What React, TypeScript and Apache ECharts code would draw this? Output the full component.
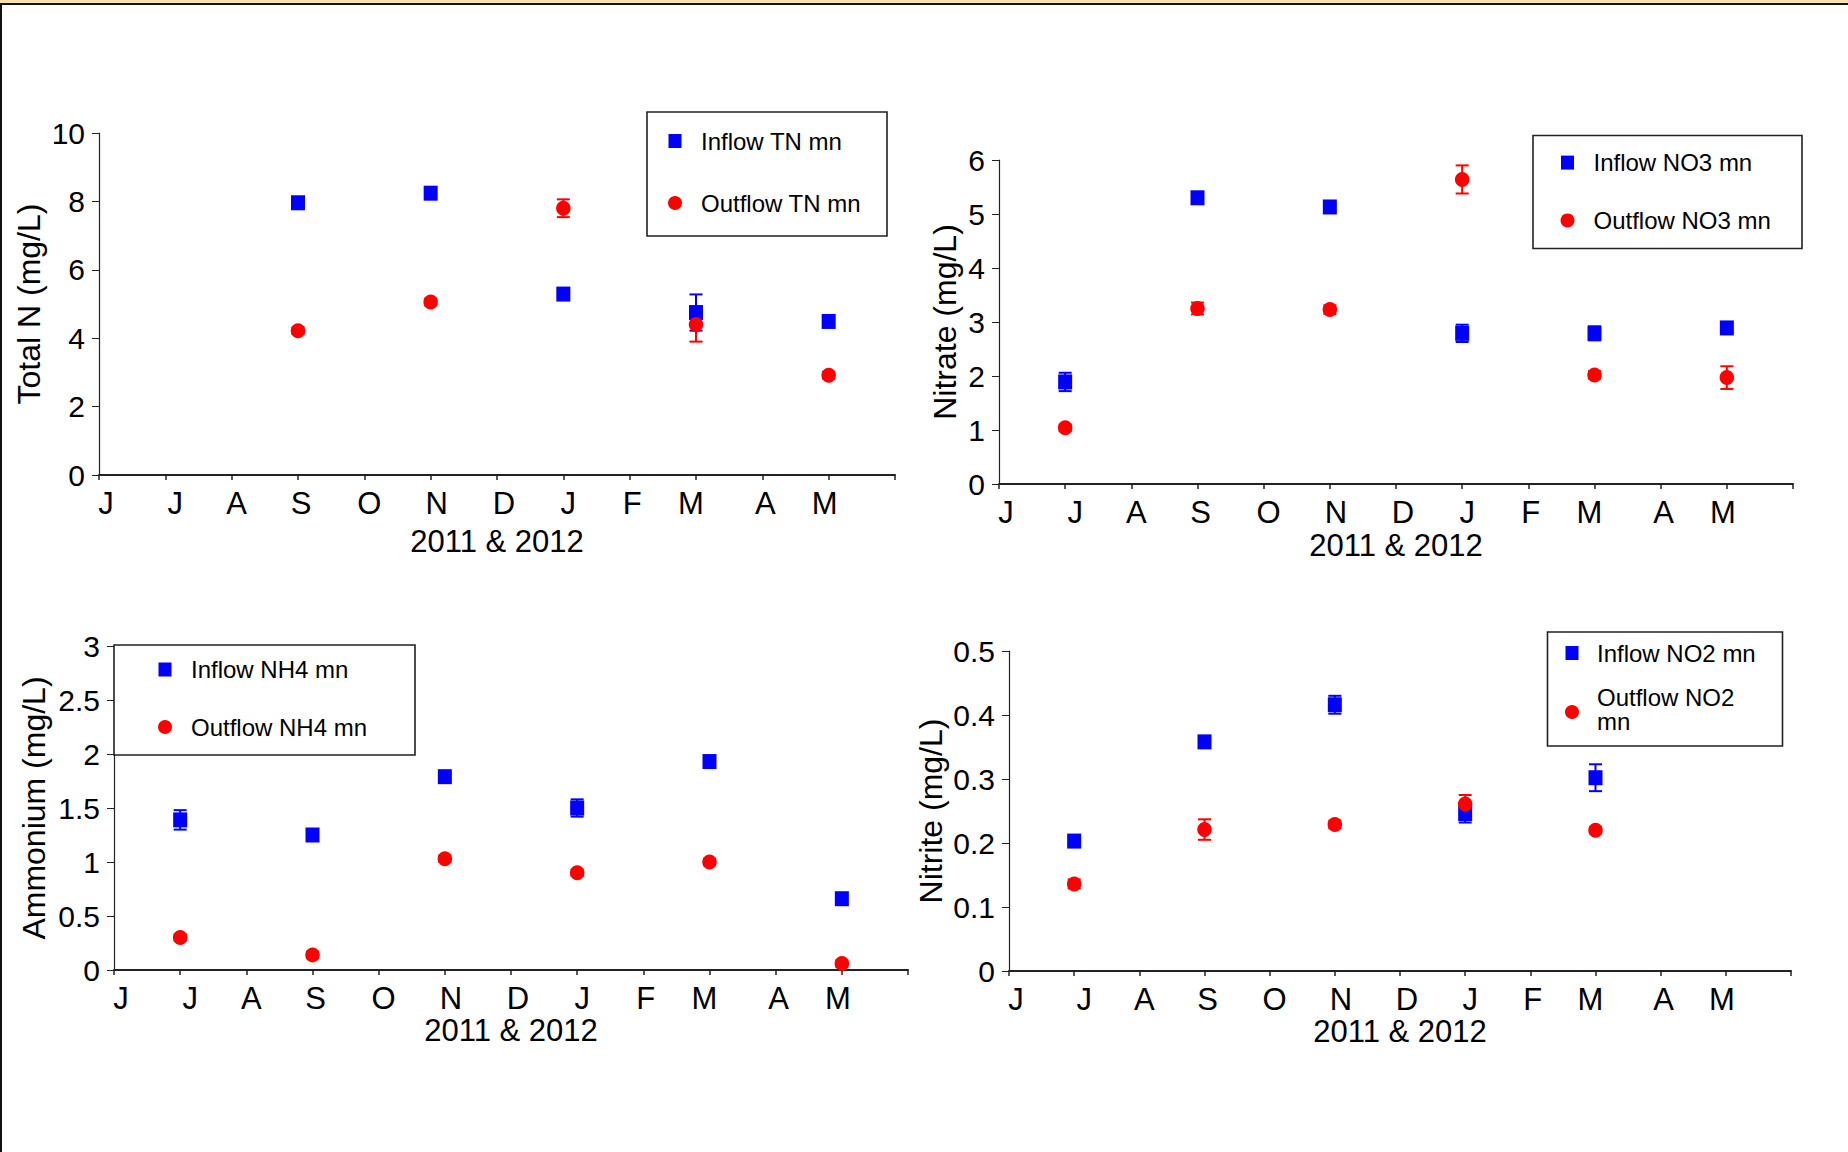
import React, { useEffect, useRef } from "react";
import * as echarts from "echarts";

// ---------- data ----------
const MONTH_LABELS = ["J", "J", "A", "S", "O", "N", "D", "J", "F", "M", "A", "M"];
const X_AXIS_TITLE = "2011 & 2012";

// Total N
const TN_MONTHS = [3, 5, 7, 9, 11];
const TN_IN = [7.96, 8.24, 5.29, 4.75, 4.49];
const TN_IN_ERR = [0.1, 0.1, 0.1, 0.53, 0.1];
const TN_OUT = [4.22, 5.06, 7.8, 4.4, 2.92];
const TN_OUT_ERR = [0.1, 0.1, 0.26, 0.5, 0.1];

// Nitrate
const NO3_MONTHS = [1, 3, 5, 7, 9, 11];
const NO3_IN = [1.89, 5.3, 5.13, 2.79, 2.79, 2.89];
const NO3_IN_ERR = [0.17, 0.08, 0.08, 0.16, 0.13, 0.08];
const NO3_OUT = [1.04, 3.25, 3.23, 5.64, 2.02, 1.97];
const NO3_OUT_ERR = [0.06, 0.11, 0.08, 0.26, 0.07, 0.21];

// Ammonium
const NH4_MONTHS = [1, 3, 5, 7, 9, 11];
const NH4_IN = [1.39, 1.25, 1.79, 1.5, 1.93, 0.66];
const NH4_IN_ERR = [0.09, 0.04, 0.03, 0.08, 0.03, 0.03];
const NH4_OUT = [0.3, 0.14, 1.03, 0.9, 1.0, 0.06];
const NH4_OUT_ERR = [0.03, 0.03, 0.03, 0.03, 0.03, 0.03];

// Nitrite
const NO2_MONTHS = [1, 3, 5, 7, 9];
const NO2_IN = [0.203, 0.358, 0.416, 0.246, 0.302];
const NO2_IN_ERR = [0.005, 0.005, 0.014, 0.014, 0.021];
const NO2_OUT = [0.136, 0.221, 0.229, 0.261, 0.22];
const NO2_OUT_ERR = [0.007, 0.016, 0.006, 0.014, 0.005];

// ---------- style ----------
const BLUE = "#0000ff";
const RED = "#ff0000";
const FONT = '"Liberation Sans", Arial, Helvetica, sans-serif';
// horizontal nudge (px) of each month letter relative to its tick, as in the original
const LABEL_NUDGE = [7, 10, 5, 3, 5, 6, 7, 5, 2.5, -5, 3, -4];

const monthRich: Record<string, any> = {};
LABEL_NUDGE.forEach((n, k) => {
  monthRich["m" + k] = {
    fontSize: 31,
    fontFamily: FONT,
    color: "#000",
    padding: n >= 0 ? [0, 0, 0, 2 * n] : [0, -2 * n, 0, 0],
  };
});

type Panel = {
  grid: { left: number; top: number; width: number; height: number };
  yMax: number;
  yInterval: number;
  yTitle: string;
  yGap: number;
  xGap: number;
  months: number[];
  inV: number[];
  inE: number[];
  outV: number[];
  outE: number[];
  inName: string;
  outName: string;
  legend: { box: number[]; mx: number; rows: number[]; tx: number; outText: string; outTextY: number };
};

const PANELS: Panel[] = [
  {
    grid: { left: 99, top: 133, width: 796, height: 342 },
    yMax: 10, yInterval: 2, yTitle: "Total N (mg/L)", yGap: 54, xGap: 51,
    months: TN_MONTHS, inV: TN_IN, inE: TN_IN_ERR, outV: TN_OUT, outE: TN_OUT_ERR,
    inName: "Inflow TN mn", outName: "Outflow TN mn",
    legend: { box: [647, 112, 240, 124], mx: 675, rows: [141, 203], tx: 701, outText: "Outflow TN mn", outTextY: 203 },
  },
  {
    grid: { left: 999, top: 160, width: 794, height: 324 },
    yMax: 6, yInterval: 1, yTitle: "Nitrate (mg/L)", yGap: 38, xGap: 46,
    months: NO3_MONTHS, inV: NO3_IN, inE: NO3_IN_ERR, outV: NO3_OUT, outE: NO3_OUT_ERR,
    inName: "Inflow NO3 mn", outName: "Outflow NO3 mn",
    legend: { box: [1533, 135.5, 269, 113], mx: 1567.5, rows: [162.6, 220.4], tx: 1593.5, outText: "Outflow NO3 mn", outTextY: 220.4 },
  },
  {
    grid: { left: 114, top: 646, width: 794, height: 324 },
    yMax: 3, yInterval: 0.5, yTitle: "Ammonium (mg/L)", yGap: 64, xGap: 45,
    months: NH4_MONTHS, inV: NH4_IN, inE: NH4_IN_ERR, outV: NH4_OUT, outE: NH4_OUT_ERR,
    inName: "Inflow NH4 mn", outName: "Outflow NH4 mn",
    legend: { box: [114, 645, 301, 110], mx: 165, rows: [669.5, 727], tx: 191, outText: "Outflow NH4 mn", outTextY: 727 },
  },
  {
    grid: { left: 1009, top: 651, width: 782, height: 320 },
    yMax: 0.5, yInterval: 0.1, yTitle: "Nitrite (mg/L)", yGap: 62, xGap: 45,
    months: NO2_MONTHS, inV: NO2_IN, inE: NO2_IN_ERR, outV: NO2_OUT, outE: NO2_OUT_ERR,
    inName: "Inflow NO2 mn", outName: "Outflow NO2 mn",
    legend: { box: [1547.5, 632, 235, 114], mx: 1572, rows: [653, 712], tx: 1597, outText: "Outflow NO2\nmn", outTextY: 709 },
  },
];

const errData = (months: number[], vals: number[], errs: number[]) =>
  months.map((m, k) => [m, vals[k], vals[k] - errs[k], vals[k] + errs[k]]);
const ptData = (months: number[], vals: number[]) => months.map((m, k) => [m, vals[k]]);

const errRender = (color: string) => (params: any, api: any) => {
  const x = api.value(0);
  const lo = api.coord([x, api.value(2)]);
  const hi = api.coord([x, api.value(3)]);
  const w = 6.5;
  const st = { stroke: color, lineWidth: 2, lineCap: "butt" };
  return {
    type: "group",
    children: [
      { type: "line", shape: { x1: lo[0], y1: lo[1], x2: hi[0], y2: hi[1] }, style: st },
      { type: "line", shape: { x1: lo[0] - w, y1: lo[1], x2: lo[0] + w, y2: lo[1] }, style: st },
      { type: "line", shape: { x1: hi[0] - w, y1: hi[1], x2: hi[0] + w, y2: hi[1] }, style: st },
    ],
  };
};

function buildOption() {
  const grid: any[] = [];
  const xAxis: any[] = [];
  const yAxis: any[] = [];
  const series: any[] = [];
  const graphic: any[] = [
    { type: "rect", shape: { x: 0, y: 0, width: 1848, height: 3 }, style: { fill: "#f9e2ae" }, silent: true },
    { type: "rect", shape: { x: 0, y: 3, width: 1848, height: 2 }, style: { fill: "#111" }, silent: true },
    { type: "rect", shape: { x: 0, y: 3, width: 2, height: 1149 }, style: { fill: "#111" }, silent: true },
  ];

  PANELS.forEach((p, i) => {
    grid.push({ ...p.grid, containLabel: false });
    xAxis.push({
      type: "value", gridIndex: i, min: 0, max: 12, interval: 1,
      name: X_AXIS_TITLE, nameLocation: "middle", nameGap: p.xGap,
      nameTextStyle: { fontSize: 31, fontFamily: FONT, color: "#000" },
      axisLine: { show: true, onZero: false, lineStyle: { color: "#222", width: 2 } },
      axisTick: { show: true, length: 5, lineStyle: { color: "#222", width: 1.5 } },
      axisLabel: {
        fontSize: 31, fontFamily: FONT, color: "#000", margin: 13,
        formatter: (v: number) => {
          const k = Math.round(v);
          return MONTH_LABELS[k] ? `{m${k}|${MONTH_LABELS[k]}}` : "";
        },
        rich: monthRich,
      },
      splitLine: { show: false },
    });
    yAxis.push({
      type: "value", gridIndex: i, min: 0, max: p.yMax, interval: p.yInterval,
      name: p.yTitle, nameLocation: "middle", nameGap: p.yGap, nameRotate: 90,
      nameTextStyle: { fontSize: 32, fontFamily: FONT, color: "#000" },
      axisLine: { show: true, lineStyle: { color: "#222", width: 1.2 } },
      axisTick: { show: true, length: 7, lineStyle: { color: "#222", width: 1 } },
      axisLabel: { fontSize: 30, fontFamily: FONT, color: "#000", margin: 14 },
      splitLine: { show: false },
    });
    series.push({
      type: "custom", name: p.outName + " err", xAxisIndex: i, yAxisIndex: i, z: 2,
      renderItem: errRender(RED), encode: { x: 0, y: [2, 3] },
      data: errData(p.months, p.outV, p.outE), silent: true,
    });
    series.push({
      type: "custom", name: p.inName + " err", xAxisIndex: i, yAxisIndex: i, z: 3,
      renderItem: errRender(BLUE), encode: { x: 0, y: [2, 3] },
      data: errData(p.months, p.inV, p.inE), silent: true,
    });
    series.push({
      type: "scatter", name: p.inName, xAxisIndex: i, yAxisIndex: i, z: 4,
      symbol: "rect", symbolSize: [14, 15], itemStyle: { color: BLUE, opacity: 1 },
      data: ptData(p.months, p.inV),
    });
    series.push({
      type: "scatter", name: p.outName, xAxisIndex: i, yAxisIndex: i, z: 5,
      symbol: "circle", symbolSize: [14.5, 15], itemStyle: { color: RED, opacity: 1 },
      data: ptData(p.months, p.outV),
    });

    const L = p.legend;
    graphic.push({
      type: "rect", shape: { x: L.box[0], y: L.box[1], width: L.box[2], height: L.box[3] },
      style: { fill: "#fff", stroke: "#222", lineWidth: 1.6 }, z: 10, silent: true,
    });
    graphic.push({
      type: "rect", shape: { x: L.mx - 6.5, y: L.rows[0] - 7, width: 13, height: 14 },
      style: { fill: BLUE }, z: 11, silent: true,
    });
    graphic.push({
      type: "circle", shape: { cx: L.mx, cy: L.rows[1], r: 7 },
      style: { fill: RED }, z: 11, silent: true,
    });
    graphic.push({
      type: "text", x: L.tx, y: L.rows[0], z: 11, silent: true,
      style: { text: p.inName, fontSize: 24, fontFamily: FONT, fill: "#000", verticalAlign: "middle", align: "left" },
    });
    graphic.push({
      type: "text", x: L.tx, y: L.outTextY, z: 11, silent: true,
      style: { text: L.outText, fontSize: 24, lineHeight: 24, fontFamily: FONT, fill: "#000", verticalAlign: "middle", align: "left" },
    });
  });

  return {
    animation: false,
    backgroundColor: "#ffffff",
    textStyle: { fontFamily: FONT },
    grid, xAxis, yAxis, series, graphic,
  };
}

export default function App() {
  const ref = useRef<HTMLDivElement>(null);
  useEffect(() => {
    if (!ref.current) return;
    const chart = echarts.init(ref.current, undefined, { renderer: "svg" });
    chart.setOption(buildOption() as any);
    return () => chart.dispose();
  }, []);
  return (
    <div
      ref={ref}
      style={{ position: "absolute", left: 0, top: 0, width: 1848, height: 1152, background: "#fff" }}
    />
  );
}
